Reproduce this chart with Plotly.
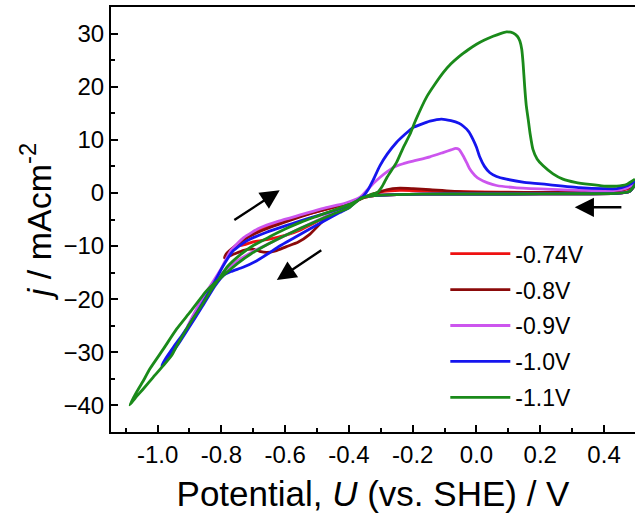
import plotly.graph_objects as go

# ---- data ----
names = ["-0.74V", "-0.8V", "-0.9V", "-1.0V", "-1.1V"]
colors = ["#ee1111", "#8b0a0a", "#cc55ee", "#1515ee", "#1a8a1a"]

base_u = [0.50, 0.48, 0.44, 0.30, 0.10, -0.10, -0.25, -0.32]
base_j = [1.8, 0.3, -0.1, -0.15, -0.2, -0.2, -0.3, -0.5]

u_074 = [-0.36, -0.40, -0.45, -0.50, -0.55, -0.60, -0.65, -0.70, -0.74,
         -0.73, -0.70, -0.65, -0.60, -0.55, -0.48, -0.42, -0.37, -0.33, -0.29, -0.24,
         -0.18, -0.10, 0.00, 0.15, 0.30, 0.42, 0.47, 0.50]
j_074 = [-1.0, -2.4, -3.8, -5.4, -6.9, -8.0, -8.7, -9.2, -9.9,
         -8.8, -7.6, -6.3, -5.2, -4.3, -3.2, -2.3, -1.3, -0.3, 0.3, 0.5,
         0.45, 0.3, 0.2, 0.1, 0.15, 0.3, 0.7, 1.5]

u_080 = [-0.36, -0.40, -0.44, -0.47, -0.523, -0.56, -0.596, -0.63, -0.658, -0.68, -0.70,
         -0.73, -0.76, -0.79,
         -0.785, -0.757, -0.71, -0.66, -0.606, -0.512, -0.45, -0.40, -0.36, -0.324,
         -0.282, -0.24, -0.199, -0.146, -0.042, 0.10, 0.30, 0.42, 0.47, 0.50]
j_080 = [-1.0, -2.5, -3.6, -4.6, -7.8, -9.3, -10.1, -10.9, -11.2, -11.0, -10.6,
         -10.8, -11.5, -12.2,
         -11.5, -10.0, -8.1, -6.8, -5.6, -3.7, -2.7, -1.9, -1.0, -0.25,
         0.6, 0.9, 0.8, 0.6, 0.2, 0.1, 0.15, 0.35, 0.8, 1.7]

u_090 = [-0.36, -0.40, -0.45, -0.50, -0.55, -0.60, -0.65, -0.70, -0.75, -0.80, -0.85,
         -0.88, -0.905,
         -0.895, -0.87, -0.84, -0.80, -0.77, -0.73, -0.68, -0.62, -0.55, -0.48, -0.41,
         -0.365, -0.345, -0.323, -0.303, -0.28, -0.261, -0.23, -0.199, -0.146, -0.105,
         -0.08, -0.065, -0.055, -0.042, -0.03, -0.021, -0.005, 0.01, 0.035, 0.063, 0.12,
         0.219, 0.33, 0.43, 0.47, 0.50]
j_090 = [-0.8, -2.6, -3.8, -5.2, -6.6, -8.0, -9.5, -11.0, -12.8, -15.3, -19.3,
         -22.3, -25.0,
         -23.8, -21.0, -18.0, -14.2, -10.8, -8.4, -6.6, -5.3, -4.1, -2.9, -1.9,
         -0.8, 0.4, 1.8, 2.9, 4.0, 4.8, 5.5, 6.0, 6.8, 7.6,
         8.1, 8.4, 8.2, 7.0, 5.6, 4.5, 3.3, 2.6, 1.9, 1.4, 1.0,
         0.7, 0.5, 0.45, 0.9, 1.9]

u_100 = [-0.36, -0.40, -0.429, -0.475, -0.523, -0.57, -0.617, -0.65, -0.69, -0.732,
         -0.77, -0.795, -0.82, -0.86, -0.90, -0.94, -0.987,
         -0.975, -0.95, -0.92, -0.885, -0.85, -0.82, -0.795, -0.763, -0.72, -0.658,
         -0.60, -0.554, -0.50, -0.45, -0.40, -0.37, -0.355, -0.34, -0.325, -0.303,
         -0.28, -0.251, -0.225, -0.199, -0.17, -0.146, -0.11, -0.08, -0.055, -0.042,
         -0.025, -0.011, 0.0, 0.01, 0.025, 0.042, 0.063, 0.094, 0.15, 0.219, 0.324,
         0.40, 0.44, 0.47, 0.50]
j_100 = [-0.8, -2.8, -3.7, -5.2, -6.8, -8.4, -10.0, -11.3, -12.8, -14.0,
         -14.8, -15.6, -17.5, -21.4, -25.2, -28.9, -32.5,
         -31.2, -29.0, -26.5, -23.3, -19.8, -16.6, -13.8, -10.9, -9.0, -7.4,
         -6.2, -5.3, -4.3, -3.4, -2.3, -1.3, -0.6, 0.6, 2.3, 5.1,
         7.3, 9.5, 11.0, 12.3, 13.0, 13.5, 13.9, 13.6, 13.1, 12.6,
         11.6, 10.1, 8.6, 6.8, 5.0, 3.8, 3.1, 2.6, 2.0, 1.6, 1.0,
         0.8, 0.8, 1.3, 2.3]

u_110 = [-0.36, -0.40, -0.45, -0.50, -0.55, -0.60, -0.65, -0.70, -0.75, -0.795,
         -0.846, -0.899, -0.94, -0.982, -1.024, -1.046, -1.066, -1.087,
         -1.07, -1.045, -1.014, -0.982, -0.956, -0.94, -0.915, -0.889, -0.862, -0.836,
         -0.81, -0.78, -0.742, -0.70, -0.65, -0.60, -0.55, -0.50, -0.45, -0.40,
         -0.355, -0.33, -0.31, -0.295, -0.28, -0.251, -0.23, -0.209, -0.19, -0.157,
         -0.13, -0.105, -0.08, -0.052, -0.025, 0.0, 0.025, 0.052, 0.075, 0.094,
         0.115, 0.128, 0.136, 0.142, 0.146, 0.151, 0.156, 0.162, 0.168, 0.177,
         0.19, 0.209, 0.24, 0.271, 0.31, 0.355, 0.40, 0.44, 0.47, 0.497]
j_110 = [-0.9, -2.8, -4.0, -5.3, -6.6, -8.0, -9.5, -11.2, -13.3, -15.6,
         -18.4, -22.5, -25.6, -29.4, -33.1, -35.5, -37.5, -39.9,
         -38.6, -36.9, -34.7, -32.5, -30.6, -28.8, -26.2, -23.7, -21.2, -18.7,
         -16.4, -13.8, -11.7, -9.9, -8.3, -6.8, -5.5, -4.4, -3.3, -2.2,
         -0.9, -0.3, 0.1, 1.3, 3.0, 5.7, 8.5, 11.0, 13.8, 18.0,
         20.5, 22.6, 24.3, 25.8, 27.0, 28.0, 28.8, 29.5, 30.0, 30.3,
         30.1, 29.5, 28.6, 27.0, 24.5, 20.1, 16.5, 13.9, 11.2, 8.2,
         6.4, 5.1, 3.6, 2.6, 2.0, 1.6, 1.3, 1.3, 1.6, 2.6]

curves_u = [u_074, u_080, u_090, u_100, u_110]
curves_j = [j_074, j_080, j_090, j_100, j_110]

# scan-direction arrows: (head U, head j, tail U, tail j)
arrows = [(-0.617, 0.5, -0.764, -5.3),
          (-0.626, -16.4, -0.482, -10.6),
          (0.308, -2.7, 0.459, -2.7)]

x_ticks = [-1.0, -0.8, -0.6, -0.4, -0.2, 0.0, 0.2, 0.4]
y_ticks = [-40, -30, -20, -10, 0, 10, 20, 30]

# ---- figure ----
fig = go.Figure()
for i, name in enumerate(names):
    fig.add_trace(go.Scatter(
        x=base_u + curves_u[i], y=base_j + curves_j[i],
        mode="lines", name=name, legendgroup=name,
        line=dict(color=colors[i], width=2.8, shape="spline", smoothing=0.5)))

for hx, hy, tx, ty in arrows:
    fig.add_annotation(x=hx, y=hy, ax=tx, ay=ty, xref="x", yref="y",
                       axref="x", ayref="y", text="", showarrow=True,
                       arrowhead=2, arrowsize=1.6, arrowwidth=2.4,
                       arrowcolor="black")

font_family = "Arial, Liberation Sans, sans-serif"
fig.update_layout(
    width=635, height=521,
    margin=dict(l=111, r=0, t=7, b=89, autoexpand=False),
    plot_bgcolor="white", paper_bgcolor="white",
    font=dict(family=font_family, color="black"),
    legend=dict(x=0.638, y=0.47, xanchor="left", yanchor="top",
                bgcolor="rgba(0,0,0,0)", font=dict(size=23, color="black"),
                itemwidth=60, tracegroupgap=3),
    showlegend=True,
)
fig.update_xaxes(
    range=[-1.146, 0.497], tickvals=x_ticks, automargin=False,
    ticktext=[f"{v:.1f}" for v in x_ticks],
    ticks="inside", ticklen=7, tickwidth=2, tickcolor="black",
    minor=dict(ticks="inside", ticklen=4, tickwidth=2, tickcolor="black", dtick=0.1, tick0=0),
    showline=True, linewidth=2, linecolor="black", mirror=True,
    showgrid=False, zeroline=False,
    tickfont=dict(size=24, color="black"),
    title=dict(text="Potential, <i>U</i> (vs. SHE) / V", font=dict(size=35), standoff=15),
)
fig.update_yaxes(
    range=[-45, 35], tickvals=y_ticks, automargin=False,
    ticks="inside", ticklen=7, tickwidth=2, tickcolor="black",
    minor=dict(ticks="inside", ticklen=4, tickwidth=2, tickcolor="black", dtick=5, tick0=0),
    showline=True, linewidth=2, linecolor="black", mirror=False,
    showgrid=False, zeroline=False,
    tickfont=dict(size=24, color="black"),
    title=dict(text="<i>j</i> / mAcm<sup>-2</sup>", font=dict(size=34), standoff=2),
)

fig.write_html("out.html", config={"displayModeBar": False},
               post_script="document.body.style.margin='0';")
